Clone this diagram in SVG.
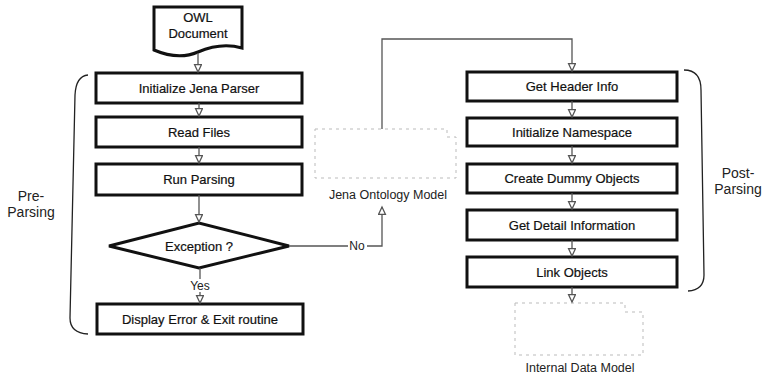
<svg xmlns="http://www.w3.org/2000/svg" width="764" height="375" viewBox="0 0 764 375">
<style>
.box{fill:#fff;stroke:#111;stroke-width:3}
.t{font-family:"Liberation Sans",Arial,sans-serif;font-size:13px;fill:#111;text-anchor:middle;stroke:#111;stroke-width:0.2}
.lbl{font-family:"Liberation Sans",Arial,sans-serif;font-size:12.5px;fill:#222;text-anchor:middle}
.side{font-family:"Liberation Sans",Arial,sans-serif;font-size:14px;fill:#222;text-anchor:middle}
.c{fill:none;stroke:#555;stroke-width:1.3}
.br{fill:none;stroke:#222;stroke-width:1.3}
.faint{fill:none;stroke:#bbb;stroke-width:1;stroke-dasharray:3 4}
</style>
<defs>
<marker id="ah" markerUnits="userSpaceOnUse" markerWidth="10" markerHeight="10" refX="8" refY="4" orient="auto">
<path d="M0.5,0.5 L8,4 L0.5,7.5 Z" fill="#fff" stroke="#555" stroke-width="1.3"/>
</marker>
</defs>

<g id="owl-document">
<path class="box" d="M154,7 H242 V48 C228,44 212,46 198,52 C184,58 168,56 154,50 Z"/>
<text class="t" x="198" y="22">OWL</text>
<text class="t" x="198" y="38">Document</text>
</g>
<g id="init-jena">
<rect class="box" x="96" y="73" width="206" height="30"/>
<text class="t" x="199" y="93">Initialize Jena Parser</text>
</g>
<g id="read-files">
<rect class="box" x="96" y="117" width="206" height="30"/>
<text class="t" x="199" y="137">Read Files</text>
</g>
<g id="run-parsing">
<rect class="box" x="96" y="164" width="206" height="31"/>
<text class="t" x="199" y="184">Run Parsing</text>
</g>
<g id="exception">
<path class="box" d="M109,246 L199,223 L289,246 L199,268 Z"/>
<text class="t" x="199" y="251">Exception ?</text>
</g>
<g id="display-error">
<rect class="box" x="97" y="304" width="206" height="30"/>
<text class="t" x="200" y="324">Display Error &amp; Exit routine</text>
</g>
<g id="jena-model">
<path class="faint" d="M315,129 H447 V137 H456 V178 H315 Z"/>
<text class="lbl" x="388" y="199">Jena Ontology Model</text>
</g>
<g id="get-header">
<rect class="box" x="467" y="72" width="210" height="29"/>
<text class="t" x="572" y="91">Get Header Info</text>
</g>
<g id="init-namespace">
<rect class="box" x="467" y="118" width="210" height="28"/>
<text class="t" x="572" y="137">Initialize Namespace</text>
</g>
<g id="create-dummy">
<rect class="box" x="467" y="164" width="210" height="29"/>
<text class="t" x="572" y="183">Create Dummy Objects</text>
</g>
<g id="get-detail">
<rect class="box" x="467" y="210" width="210" height="30"/>
<text class="t" x="572" y="230">Get Detail Information</text>
</g>
<g id="link-objects">
<rect class="box" x="467" y="257" width="210" height="30"/>
<text class="t" x="572" y="277">Link Objects</text>
</g>
<g id="internal-model">
<path class="faint" d="M515,303 H625 V312 H643 V355 H515 Z"/>
<text class="lbl" x="580" y="372">Internal Data Model</text>
</g>
<g id="pre-parsing">
<path class="br" d="M88,75 Q76,76 75,95 L70,318 Q70,333 88,334"/>
<text class="side" x="31" y="201">Pre-</text>
<text class="side" x="31" y="217">Parsing</text>
</g>
<g id="post-parsing">
<path class="br" d="M684,70 Q701,70 701,90 L704,275 Q704,290 688,291"/>
<text class="side" x="738" y="178">Post-</text>
<text class="side" x="738" y="194">Parsing</text>
</g>

<g id="connectors">
<path class="c" d="M198,53 V72" marker-end="url(#ah)"/>
<path class="c" d="M199,103 V116" marker-end="url(#ah)"/>
<path class="c" d="M199,147 V163" marker-end="url(#ah)"/>
<path class="c" d="M199,195 V222" marker-end="url(#ah)"/>
<path class="c" d="M200,268 V303" marker-end="url(#ah)"/>
<rect x="187" y="279" width="26" height="13" fill="#fff"/>
<text class="lbl" x="200" y="290" style="font-size:12px">Yes</text>
<path class="c" d="M289,246 H382 V207" marker-end="url(#ah)"/>
<rect x="348" y="240" width="19" height="12" fill="#fff"/>
<text class="lbl" x="357" y="250" style="font-size:12px">No</text>
<path class="c" d="M382,129 V39 H572 V71" marker-end="url(#ah)"/>
<path class="c" d="M572,101 V117" marker-end="url(#ah)"/>
<path class="c" d="M572,146 V163" marker-end="url(#ah)"/>
<path class="c" d="M572,193 V209" marker-end="url(#ah)"/>
<path class="c" d="M572,240 V256" marker-end="url(#ah)"/>
<path class="c" d="M572,287 V302" marker-end="url(#ah)"/>
</g>
</svg>
